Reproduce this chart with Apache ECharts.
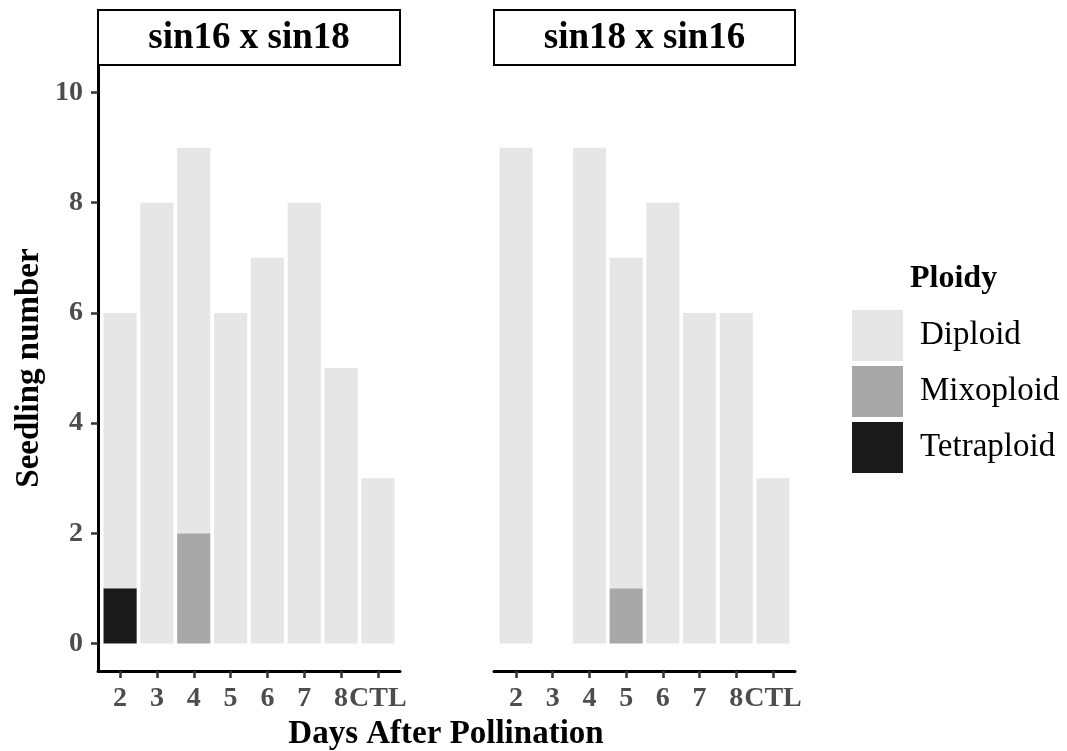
<!DOCTYPE html>
<html><head><meta charset="utf-8">
<script src="https://cdn.jsdelivr.net/npm/echarts@6/dist/echarts.min.js"></script>
<style>html,body{margin:0;padding:0;background:#fff}#c{width:1067px;height:751px}</style>
</head><body><div id="c"></div>
<script>
const days = ['2','3','4','5','6','7','8','CTL'];
const panels = ['sin16 x sin18','sin18 x sin16'];
const ploidy = ['Diploid','Mixoploid','Tetraploid'];
const yTicks = [0,2,4,6,8,10];
// panel 1: sin16 x sin18
const p1Diploid    = [5,8,7,6,7,8,5,3];
const p1Mixoploid  = [0,0,2,0,0,0,0,0];
const p1Tetraploid = [1,0,0,0,0,0,0,0];
// panel 2: sin18 x sin16
const p2Diploid    = [9,0,9,6,8,6,6,3];
const p2Mixoploid  = [0,0,0,1,0,0,0,0];
const p2Tetraploid = [0,0,0,0,0,0,0,0];

const colors = {Diploid:'#e6e6e6', Mixoploid:'#a8a8a8', Tetraploid:'#1a1a1a'};
const FONT = 'Liberation Serif';
const TOP = 65, HEIGHT = 606;
const panelBoxes = [{left:98, width:302},{left:494, width:301}];
// ggplot-style discrete expansion of 0.6 band on each side
const outerGrids = panelBoxes.map(p=>({left:p.left, width:p.width, top:TOP, height:HEIGHT}));
const innerGrids = panelBoxes.map(p=>{
  const unit = p.width/(days.length-1+1.2);
  const inset = unit*0.1;
  return {left:p.left+inset, width:p.width-2*inset, top:TOP, height:HEIGHT};
});
const grids = outerGrids.concat(innerGrids);

const labelFont = {color:'#4d4d4d', fontFamily:FONT, fontWeight:'bold', fontSize:28};
const xAxes = [], yAxes = [];
[0,1].forEach(gi=>{
  xAxes.push({type:'value', gridIndex:gi, min:0, max:1, splitLine:{show:false},
    axisLine:{show:true, onZero:false, lineStyle:{color:'#000', width:3}},
    axisTick:{show:false}, axisLabel:{show:false}});
  const show = gi===0;
  yAxes.push({type:'value', gridIndex:gi, min:-0.5, max:10.5, splitLine:{show:false},
    axisLine:{show:show, onZero:false, lineStyle:{color:'#000', width:3}},
    axisTick:{show:show, customValues:yTicks, length:7, lineStyle:{color:'#333', width:2.5}},
    axisLabel:Object.assign({show:show, customValues:yTicks, margin:15}, labelFont),
    name: show ? 'Seedling number' : '', nameLocation:'middle', nameGap:52, nameRotate:90,
    nameTextStyle:{fontFamily:FONT, fontWeight:'bold', fontSize:33, color:'#000'}});
});
[2,3].forEach(gi=>{
  xAxes.push({type:'category', gridIndex:gi, data:days, boundaryGap:true,
    axisLine:{show:false, onZero:false},
    axisTick:{show:true, alignWithLabel:true, length:7, lineStyle:{color:'#333', width:2.5}},
    axisLabel:Object.assign({show:true, margin:14, interval:0}, labelFont)});
  yAxes.push({type:'value', gridIndex:gi, min:-0.5, max:10.5, show:false});
});

const panelData = [
  {Diploid:p1Diploid, Mixoploid:p1Mixoploid, Tetraploid:p1Tetraploid},
  {Diploid:p2Diploid, Mixoploid:p2Mixoploid, Tetraploid:p2Tetraploid}
];
const series = [];
panelData.forEach((pd, pi)=>{
  const ai = pi+2;
  ['Tetraploid','Mixoploid','Diploid'].forEach(name=>{
    series.push({type:'bar', name:name, xAxisIndex:ai, yAxisIndex:ai, stack:'s'+pi,
      barWidth:'90%', itemStyle:{color:colors[name]}, emphasis:{disabled:true},
      data: pd[name]});
  });
});
const graphic = [];
panelBoxes.forEach((g,i)=>{
  graphic.push({type:'rect', shape:{x:g.left, y:10, width:g.width, height:55},
    style:{fill:'#fff', stroke:'#000', lineWidth:2}, z:10});
  graphic.push({type:'text', x:g.left+g.width/2, y:38, z:11,
    style:{text:panels[i], textAlign:'center', textVerticalAlign:'middle', fill:'#000',
      font:'bold 37px "'+FONT+'"'}});
});
graphic.push({type:'text', x:446, y:734, style:{text:'Days After Pollination', textAlign:'center',
  textVerticalAlign:'middle', fill:'#000', font:'bold 33px "'+FONT+'"'}});
graphic.push({type:'text', x:910, y:279, style:{text:'Ploidy', textAlign:'left',
  textVerticalAlign:'middle', fill:'#000', font:'bold 32px "'+FONT+'"'}});

const chart = echarts.init(document.getElementById('c'), null, {renderer:'canvas'});
chart.setOption({
  animation:false, backgroundColor:'#fff',
  grid: grids,
  xAxis: xAxes,
  yAxis: yAxes,
  legend:{data:ploidy, orient:'vertical', left:852, top:310, padding:0, itemWidth:51, itemHeight:51,
    itemGap:5, icon:'rect', selectedMode:false,
    textStyle:{fontFamily:FONT, fontSize:33, color:'#000', padding:[0,0,0,12]}},
  series: series,
  graphic: graphic
});
</script></body></html>
